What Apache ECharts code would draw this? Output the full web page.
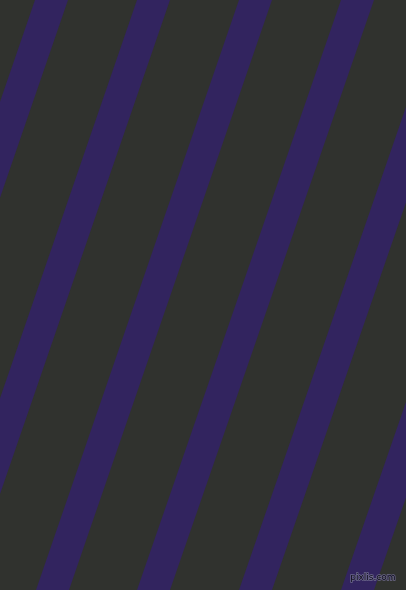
<!DOCTYPE html>
<html>
  <head>
    <meta charset="UTF-8" />
    <title>stripes</title>
    <style>
      html,
      body {
        margin: 0;
        padding: 0;
        width: 100%;
        height: 100%;
        overflow: hidden;
        background: #2f312d;
      }
      #main {
        width: 406px;
        height: 590px;
      }
    </style>
    <script src="https://cdn.jsdelivr.net/npm/echarts@6/dist/echarts.min.js"></script>
  </head>
  <body>
    <div id="main"></div>
    <script>
      // left edge of each stripe at the top (y=0) and at the bottom (y=590)
      var stripeTop = [35, 137, 239, 341, 443, 545];
      var stripeBottom = [-168, -66, 36, 137, 239, 341];
      var stripeWidth = [33, 33, 33, 33, 33, 33];

      var myChart = echarts.init(document.getElementById("main"));

      var data = stripeTop.map(function (t, i) {
        return [t, stripeBottom[i], stripeWidth[i]];
      });

      var option = {
        backgroundColor: "#30322e",
        animation: false,
        title: {
          text: "pixlis.com",
          right: 4,
          bottom: 1,
          textStyle: {
            fontFamily: "DejaVu Sans",
            fontSize: 9,
            fontWeight: "normal",
            color: "#0a0818",
            textBorderColor: "#6e6a8c",
            textBorderWidth: 1.5,
          },
        },
        grid: { left: 0, right: 0, top: 0, bottom: 0 },
        xAxis: { type: "value", min: 0, max: 406, show: false },
        yAxis: { type: "value", min: 0, max: 590, inverse: true, show: false },
        series: [
          {
            type: "custom",
            data: data,
            clip: true,
            renderItem: function (params, api) {
              var t = api.value(0),
                b = api.value(1),
                w = api.value(2);
              var pts = [
                api.coord([t, 0]),
                api.coord([t + w, 0]),
                api.coord([b + w, 590]),
                api.coord([b, 590]),
              ];
              return {
                type: "polygon",
                shape: { points: pts },
                style: { fill: "#32245f" },
              };
            },
          },
        ],
      };

      myChart.setOption(option);
    </script>
  </body>
</html>
